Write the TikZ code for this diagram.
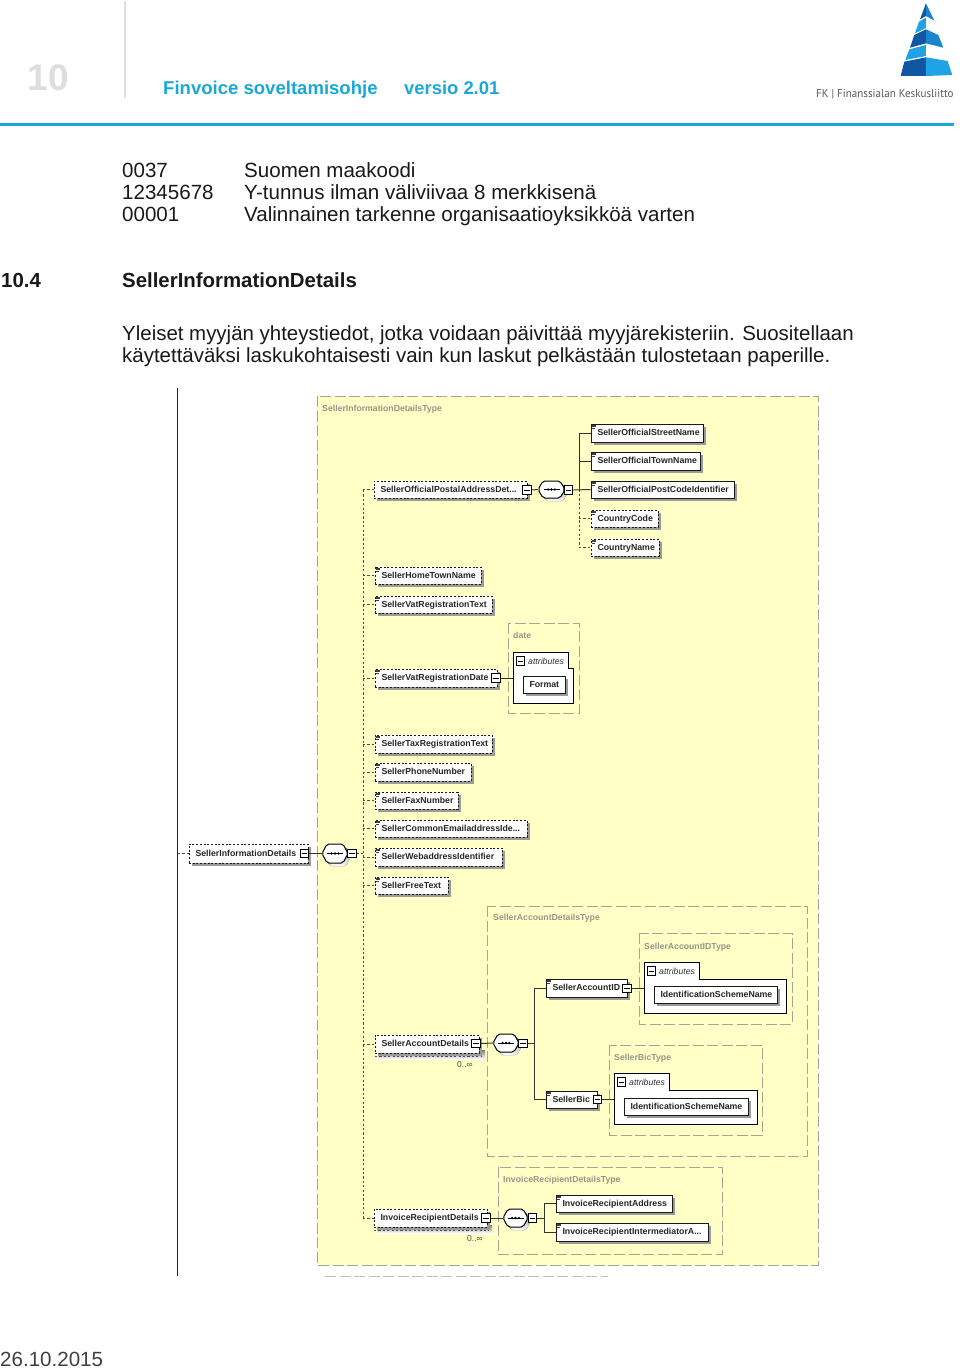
\documentclass[tikz,border=0pt]{standalone}
\usepackage{fontspec}
\setmainfont{Liberation Sans}
\newfontfamily\logofont{PT Sans}
\usetikzlibrary{shadows,calc}
\definecolor{cyanhead}{HTML}{1AA9D6}
\definecolor{yellowbg}{HTML}{FFFFC6}
\definecolor{typeedge}{HTML}{A5A592}
\definecolor{typetxt}{HTML}{96968A}
\definecolor{shade}{HTML}{9C9C96}
\definecolor{logodark}{HTML}{0F56A3}
\definecolor{logolight}{HTML}{1FA3E6}
\definecolor{logomid}{HTML}{1B84CE}
\newcommand{\dfont}{\fontsize{8.75}{10}\selectfont\bfseries}
\tikzset{
 x=1pt,y=-1pt,
 body/.style={font=\fontsize{20.55}{22}\selectfont,anchor=base west,inner sep=0,text=black!90},
 para/.style={body,font=\fontsize{20.45}{22}\selectfont},
 headb/.style={font=\fontsize{20.4}{22}\selectfont\bfseries,anchor=base west,inner sep=0,text=black!90},
 conn/.style={line width=1pt,draw=black!80},
 dconn/.style={line width=0.95pt,draw=black!70,dash pattern=on 2.2pt off 2.2pt},
 elembase/.style={rectangle,draw=black!90,fill=white,line width=0.95pt,inner ysep=0pt,inner xsep=6.5pt,font=\dfont,text=black!85,
   drop shadow={shadow xshift=3pt,shadow yshift=-3pt,fill=shade,opacity=1}},
 solidbox/.style={elembase},
 dashbox/.style={elembase,dash pattern=on 2pt off 1.7pt},
 typebox/.style={draw=typeedge,line width=1pt,dash pattern=on 11pt off 3.5pt},
 typelabel/.style={anchor=base west,inner sep=0,font=\fontsize{8.7}{10}\selectfont\bfseries,text=typetxt},
 minusbox/.style={rectangle,draw=black,fill=white,line width=1.1pt,minimum size=8.5pt,inner sep=0,
   path picture={\draw[line width=1pt] ($(path picture bounding box.west)+(1.5,0)$) -- ($(path picture bounding box.east)+(-1.5,0)$);}},
 attrtxt/.style={anchor=base west,inner sep=0,font=\fontsize{8.7}{10}\selectfont\itshape,text=black!80},
 occurs/.style={anchor=base west,inner sep=0,font=\fontsize{8.5}{10}\selectfont,text=black!70},
}
% #1 style #2 name #3 x1 #4 y1 #5 x2 #6 y2 #7 text
\newcommand{\elem}[7]{%
 \pgfmathsetmacro\cxx{(#3+#5)/2}\pgfmathsetmacro\cyy{(#4+#6)/2}%
 \pgfmathsetmacro\wdd{#5-#3}\pgfmathsetmacro\htt{#6-#4}\pgfmathsetmacro\tww{#5-#3-13}%
 \node[#1,minimum width=\wdd pt,minimum height=\htt pt,text width=\tww pt] (#2) at (\cxx,\cyy) {\mbox{\strut\raisebox{-0.8pt}{#7}}};}
\newcommand{\docicon}[1]{%
 \draw[line width=0.6pt,black!75] ($(#1.north west)+(1.5,1.4)$) -- ++(4,0) ($(#1.north west)+(1.5,2.9)$) -- ++(4,0) ($(#1.north west)+(1.5,4.4)$) -- ++(3,0);}
\newcommand{\elemdoc}[7]{\elem{#1}{#2}{#3}{#4}{#5}{#6}{#7}\docicon{#2}}
% sequence compositor: name x1 y1 x2 y2
\newcommand{\seqbox}[5]{%
 \pgfmathsetmacro\cxx{(#2+#4)/2}\pgfmathsetmacro\cyy{(#3+#5)/2}%
 \pgfmathsetmacro\wdd{#4-#2}\pgfmathsetmacro\htt{#5-#3}%
 \fill[shade,rounded corners=2pt] (#2+3,\cyy+3) -- (#2+8,#3+3) -- (#4-2,#3+3) -- (#4+3,\cyy+3) -- (#4-2,#5+3) -- (#2+8,#5+3) -- cycle;
 \draw[line width=1pt,fill=white,rounded corners=2pt] (#2,\cyy) -- (#2+5,#3) -- (#4-5,#3) -- (#4,\cyy) -- (#4-5,#5) -- (#2+5,#5) -- cycle;
 \node[inner sep=0,minimum width=\wdd pt,minimum height=\htt pt] (#1) at (\cxx,\cyy) {};
 \draw[line width=1pt] (\cxx-8,\cyy) -- (\cxx+8,\cyy);
 \fill (\cxx-3.4,\cyy) circle (1.3) (\cxx,\cyy) circle (1.3) (\cxx+3.4,\cyy) circle (1.3);}
% attributes: name x1 ytop xtab ymid x2 ybot
\newcommand{\attrs}[7]{%
 \pgfmathsetmacro\cxx{(#2+#6)/2}\pgfmathsetmacro\cyy{(#5+#7)/2}%
 \pgfmathsetmacro\wdd{#6-#2}\pgfmathsetmacro\htt{#7-#5}%
 \draw[line width=0.95pt,fill=white] (#2,#3) -- (#4,#3) -- (#4,#5) -- (#6,#5) -- (#6,#7) -- (#2,#7) -- cycle;
 \node[inner sep=0,minimum width=\wdd pt,minimum height=\htt pt] (#1) at (\cxx,\cyy) {};
 \node[minusbox] (#1minus) at (#2+7.5,#3+9) {};
 \node[attrtxt] (#1txt) at (#2+15,#3+12) {attributes};}
\begin{document}
\begin{tikzpicture}
\useasboundingbox (0,0) rectangle (960,1371);
\fill[white] (0,0) rectangle (960,1371);
% header
\draw[line width=2pt,black!12] (125,1) -- (125,98);
\node[anchor=base west,inner sep=0,font=\fontsize{37}{38}\selectfont\bfseries,text=black!13] (chap) at (27.5,90) {10};
\node[anchor=base west,inner sep=0,font=\fontsize{18.55}{20}\selectfont\bfseries,text=cyanhead] (t1) at (163,94) {Finvoice soveltamisohje};
\node[anchor=base west,inner sep=0,font=\fontsize{18.4}{20}\selectfont\bfseries,text=cyanhead] (t2) at (404,94) {versio 2.01};
\fill[cyanhead] (0,122.5) rectangle (954,126);
% logo
\begin{scope}[shift={(800,0)},x=0.3333pt,y=-0.3333pt]
\fill[logodark] (378,10) -- (360,58) -- (378,48) -- cycle;
\fill[logomid] (378,10) -- (378,48) -- (403,62) -- cycle;
\fill[logolight] (357,65) -- (378,53) -- (378,84) -- (345,100) -- cycle;
\fill[logodark] (343,105) -- (378,88) -- (378,130) -- (330,143) -- cycle;
\fill[logomid] (378,88) -- (415,105) -- (430,143) -- (378,130) -- cycle;
\fill[logolight] (328,148) -- (378,135) -- (378,168) -- (316,180) -- cycle;
\fill[logodark] (313,185) -- (378,172) -- (378,228) -- (302,228) -- cycle;
\fill[logolight] (378,172) -- (443,183) -- (457,225) -- (378,228) -- cycle;
\end{scope}
\node[anchor=base west,inner sep=0,xscale=0.96,font=\logofont\fontsize{11.5}{12}\selectfont,text=black!65] (logot) at (816,97) {FK | Finanssialan Keskusliitto};
% text
\node[body] (c1) at (122,177) {0037};
\node[body] (d1) at (244,177) {Suomen maakoodi};
\node[body] (c2) at (122,199) {12345678};
\node[body] (d2) at (244,199) {Y-tunnus ilman väliviivaa 8 merkkisenä};
\node[body] (c3) at (122,221) {00001};
\node[body] (d3) at (244,221) {Valinnainen tarkenne organisaatioyksikköä varten};
\node[headb] (h1) at (1,287) {10.4};
\node[headb] (h2) at (122,287) {SellerInformationDetails};
\node[para] (p1) at (122,340) {Yleiset myyjän yhteystiedot, jotka voidaan päivittää myyjärekisteriin. Suositellaan};
\node[para] (p2) at (122,362) {käytettäväksi laskukohtaisesti vain kun laskut pelkästään tulostetaan paperille.};
\node[body,text=black!75] (foot) at (0,1366) {26.10.2015};
% diagram frame
\draw[line width=1pt,black!85] (177.5,388) -- (177.5,1276);
\fill[yellowbg] (317,396) rectangle (818,1265);
\draw[typebox] (317,396) rectangle (818,1265);
\node[typelabel] (lroot) at (322,411) {SellerInformationDetailsType};
\draw[typebox,draw=black!25] (325,1276) -- (608,1276);
% buses
\coordinate (busL) at (363,490);
\coordinate (busPost) at (579,433);
\coordinate (busAcc) at (534,988);
\coordinate (busInv) at (544,1204);
% type boxes
\draw[typebox] (508,623) rectangle (579,713);
\node[typelabel] (ldate) at (513,638.5) {date};
\draw[typebox] (487,906) rectangle (807,1156);
\node[typelabel] (lacc) at (493,920.5) {SellerAccountDetailsType};
\draw[typebox] (639,933) rectangle (792,1024);
\node[typelabel] (lid) at (644,949.5) {SellerAccountIDType};
\draw[typebox] (609,1045) rectangle (762,1135);
\node[typelabel] (lbic) at (614,1060.5) {SellerBicType};
\draw[typebox] (498,1167) rectangle (722,1254);
\node[typelabel] (linv) at (503,1182) {InvoiceRecipientDetailsType};
% root
\elem{dashbox}{root}{189}{844}{308}{863}{SellerInformationDetails}
\node[minusbox] (rootm) at (304.5,853.5) {};
\coordinate (rootfree) at (178,853.5);
\seqbox{rootseq}{322}{844}{348}{863}
\node[minusbox] (rootsm) at (352,853.5) {};
% postal
\elem{dashbox}{postal}{374}{481}{527}{498}{SellerOfficialPostalAddressDet...}
\node[minusbox] (postalm) at (527,490) {};
\seqbox{postseq}{538}{481}{565}{498}
\node[minusbox] (postsm) at (568.5,490) {};
\elemdoc{solidbox}{street}{591}{424}{703}{442}{SellerOfficialStreetName}
\elemdoc{solidbox}{town}{591}{452}{700}{470}{SellerOfficialTownName}
\elemdoc{solidbox}{postcode}{591}{481}{734}{498}{SellerOfficialPostCodeIdentifier}
\elemdoc{dashbox}{ccode}{591}{510}{658}{527}{CountryCode}
\elemdoc{dashbox}{cname}{591}{539}{659}{556}{CountryName}
% left column
\elemdoc{dashbox}{home}{375}{567}{481}{584}{SellerHomeTownName}
\elemdoc{dashbox}{vattext}{375}{596}{492}{613}{SellerVatRegistrationText}
\elemdoc{dashbox}{vatdate}{375}{669}{497}{687}{SellerVatRegistrationDate}
\node[minusbox] (vatm) at (496,678) {};
\attrs{dattr}{513}{652}{568}{668}{573}{703}
\elem{solidbox}{format}{523}{676}{565}{693}{Format}
\elemdoc{dashbox}{taxt}{375}{735}{492}{753}{SellerTaxRegistrationText}
\elemdoc{dashbox}{phone}{375}{763}{471}{781}{SellerPhoneNumber}
\elemdoc{dashbox}{fax}{375}{792}{458}{809}{SellerFaxNumber}
\elemdoc{dashbox}{email}{375}{820}{527}{837}{SellerCommonEmailaddressIde...}
\elemdoc{dashbox}{web}{375}{848}{502}{866}{SellerWebaddressIdentifier}
\elemdoc{dashbox}{free}{375}{877}{448}{894}{SellerFreeText}
% account
\fill[shade] (378,1050) rectangle (485,1059);
\draw[dconn] (375,1056) -- (482,1056);
\elem{dashbox}{account}{375}{1035}{479}{1053}{SellerAccountDetails}
\node[minusbox] (accm) at (476,1043.5) {};
\node[occurs] (accocc) at (457,1067.5) {0..∞};
\seqbox{accseq}{493}{1034}{519}{1052}
\node[minusbox] (accsm) at (523,1043.5) {};
\elemdoc{solidbox}{accid}{546}{979}{627}{997}{SellerAccountID}
\node[minusbox] (accidm) at (627,988.5) {};
\attrs{idattr}{644}{962}{699}{979}{786}{1013}
\elem{solidbox}{isn1}{654}{986}{777}{1003}{IdentificationSchemeName}
\elemdoc{solidbox}{bic}{546}{1091}{597}{1108}{SellerBic}
\node[minusbox] (bicm) at (597.5,1099.5) {};
\attrs{bicattr}{614}{1073}{669}{1090}{757}{1124}
\elem{solidbox}{isn2}{624}{1098}{748}{1115}{IdentificationSchemeName}
% invoice
\fill[shade] (377,1225) rectangle (492,1233);
\draw[dconn] (374,1230) -- (489,1230);
\elem{dashbox}{invd}{374}{1209}{487}{1227}{InvoiceRecipientDetails}
\node[minusbox] (invm) at (486,1218) {};
\node[occurs] (invocc) at (467,1241.5) {0..∞};
\seqbox{invseq}{503}{1209}{528}{1227}
\node[minusbox] (invsm) at (532.5,1218) {};
\elemdoc{solidbox}{addr}{556}{1195}{672}{1212}{InvoiceRecipientAddress}
\elemdoc{solidbox}{interm}{556}{1223}{708}{1241}{InvoiceRecipientIntermediatorA...}
% connectors
\draw[dconn] (rootfree) -- (root.west);
\draw[conn] (rootm.east) -- (rootseq.west);
\draw[dconn] (rootsm.east) -- (rootsm.east -| busL);
\draw[dconn] (busL) -- (busL |- invd.west);
\foreach \n in {postal,home,vattext,vatdate,taxt,phone,fax,email,web,free,account,invd}{
  \draw[dconn] (busL |- \n.west) -- (\n.west);}
\draw[conn] (postalm.east) -- (postseq.west);
\draw[conn] (postsm.east) -- (postcode.west);
\draw[conn] (busPost) -- (busPost |- postcode.west);
\foreach \n in {street,town}{\draw[conn] (busPost |- \n.west) -- (\n.west);}
\draw[dconn] (busPost |- postcode.west) -- (busPost |- cname.west);
\foreach \n in {ccode,cname}{\draw[dconn] (busPost |- \n.west) -- (\n.west);}
\draw[conn] (vatm.east) -- (vatm.east -| dattr.west);
\draw[conn] (accm.east) -- (accseq.west);
\draw[conn] (accsm.east) -- (accsm.east -| busAcc);
\draw[conn] (busAcc) -- (busAcc |- bic.west);
\foreach \n in {accid,bic}{\draw[conn] (busAcc |- \n.west) -- (\n.west);}
\draw[conn] (accidm.east) -- (accidm.east -| idattr.west);
\draw[conn] (bicm.east) -- (bicm.east -| bicattr.west);
\draw[conn] (invm.east) -- (invseq.west);
\draw[conn] (invsm.east) -- (invsm.east -| busInv);
\draw[conn] (busInv |- addr.west) -- (busInv |- interm.west);
\foreach \n in {addr,interm}{\draw[conn] (busInv |- \n.west) -- (\n.west);}
\end{tikzpicture}
\end{document}
